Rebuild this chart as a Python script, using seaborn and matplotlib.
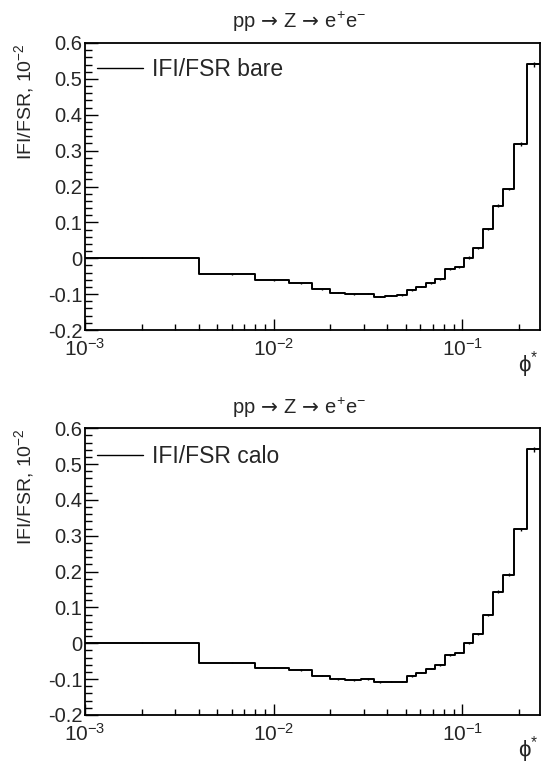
import numpy as np
import pandas as pd
import matplotlib
matplotlib.use("Agg")
import matplotlib.pyplot as plt
from matplotlib.ticker import LogLocator, MultipleLocator, FixedLocator, FixedFormatter, NullFormatter
import seaborn as sns

# ---- data ----
bin_edges = [0.001, 0.004, 0.008, 0.012, 0.016, 0.020, 0.024, 0.029, 0.034, 0.039,
             0.045, 0.051, 0.057, 0.064, 0.072, 0.081, 0.091, 0.102, 0.114, 0.128,
             0.145, 0.165, 0.189, 0.219, 0.258]
bin_centers = [0.002, 0.006, 0.010, 0.014, 0.018, 0.022, 0.0265, 0.0315, 0.0365, 0.042,
               0.048, 0.054, 0.0605, 0.068, 0.0765, 0.086, 0.0965, 0.108, 0.121, 0.1365,
               0.155, 0.177, 0.204, 0.2385]
bare_values = [0.002, -0.045, -0.061, -0.070, -0.087, -0.096, -0.101, -0.099, -0.107, -0.104,
               -0.103, -0.088, -0.079, -0.070, -0.059, -0.030, -0.025, 0.002, 0.028, 0.081,
               0.147, 0.193, 0.318, 0.541]
calo_values = [0.002, -0.054, -0.068, -0.074, -0.090, -0.099, -0.102, -0.100, -0.109, -0.107,
               -0.107, -0.091, -0.082, -0.071, -0.061, -0.033, -0.026, 0.000, 0.026, 0.079,
               0.144, 0.192, 0.318, 0.541]
errors = [0.002, 0.002, 0.002, 0.002, 0.002, 0.002, 0.002, 0.002, 0.002, 0.002,
          0.002, 0.002, 0.002, 0.002, 0.002, 0.002, 0.002, 0.003, 0.003, 0.003,
          0.004, 0.004, 0.005, 0.007]
y_ticks = [-0.2, -0.1, 0, 0.1, 0.2, 0.3, 0.4, 0.5, 0.6]
y_tick_labels = ["-0.2", "-0.1", "0", "0.1", "0.2", "0.3", "0.4", "0.5", "0.6"]
x_ticks = [0.001, 0.01, 0.1]
x_tick_labels = [r"10$^{-3}$", r"10$^{-2}$", r"10$^{-1}$"]
panel_title = r"pp$\,\mathsf{\rightarrow}\,$Z$\,\mathsf{\rightarrow}\,$e$^{+}$e$^{-}$"
y_title = r"IFI/FSR, 10$^{-2}$"
x_title = r"ϕ$^{*}$"
series = [("IFI/FSR bare", bare_values), ("IFI/FSR calo", calo_values)]

sns.set_style("ticks")
plt.rcParams['font.family'] = ['Liberation Sans', 'DejaVu Sans']
plt.rcParams['mathtext.fontset'] = 'custom'
plt.rcParams['mathtext.rm'] = 'Liberation Sans'
plt.rcParams['mathtext.it'] = 'Liberation Sans:italic'
plt.rcParams['mathtext.bf'] = 'Liberation Sans:bold'
plt.rcParams['mathtext.sf'] = 'DejaVu Sans'

W, H = 541, 764
fig = plt.figure(figsize=(W / 100, H / 100), dpi=100)
fig.patch.set_facecolor('white')

panels = [
    dict(top=43, bottom=330, title_y=22, leg_y=70),
    dict(top=428.3, bottom=715, title_y=408, leg_y=456.7),
]
left_px, right_px = 85, 540

for (label, vals), p in zip(series, panels):
    ax = fig.add_axes([left_px / W, 1 - p['bottom'] / H,
                       (right_px - left_px) / W, (p['bottom'] - p['top']) / H])
    ax.set_facecolor('white')
    ax.set_xscale('log')
    df = pd.DataFrame({'x': bin_edges, 'y': list(vals) + [vals[-1]]})
    sns.lineplot(data=df, x='x', y='y', drawstyle='steps-post', estimator=None,
                 sort=False, color='black', linewidth=1.4, ax=ax, label=label)
    ax.errorbar(bin_centers, vals, yerr=errors, fmt='none', ecolor='black',
                elinewidth=1.0, capsize=0)
    ax.set_xlim(0.001, 0.258)
    ax.set_ylim(-0.2, 0.6)

    # y axis
    ax.yaxis.set_major_locator(FixedLocator(y_ticks))
    ax.yaxis.set_major_formatter(FixedFormatter(y_tick_labels))
    ax.yaxis.set_minor_locator(MultipleLocator(0.02))
    # x axis
    ax.xaxis.set_major_locator(FixedLocator(x_ticks))
    ax.xaxis.set_major_formatter(FixedFormatter(x_tick_labels))
    ax.xaxis.set_minor_locator(LogLocator(base=10, subs=np.arange(2, 10), numticks=20))
    ax.xaxis.set_minor_formatter(NullFormatter())

    ax.tick_params(axis='both', which='both', direction='in', top=False, right=False,
                   color='black')
    ax.tick_params(axis='x', which='major', length=8, width=1.0, labelsize=15, pad=6)
    ax.tick_params(axis='x', which='minor', length=4, width=1.0)
    ax.tick_params(axis='y', which='major', length=9, width=1.0, labelsize=14.5, pad=2)
    ax.tick_params(axis='y', which='minor', length=5, width=1.0)
    for s in ax.spines.values():
        s.set_visible(True)
        s.set_color('black')
        s.set_linewidth(1.3)

    ax.set_ylabel(y_title, fontsize=14, loc='top')
    ax.yaxis.set_label_coords(-0.108, 1.0)
    ax.set_xlabel(x_title, fontsize=16, loc='right')
    ax.xaxis.set_label_coords(0.997, -0.068)
    ax.xaxis.label.set_va('top')

    hp = (p['bottom'] - p['top'])
    leg = ax.legend(loc='center left',
                    bbox_to_anchor=((97 - left_px) / (right_px - left_px),
                                    (p['bottom'] - p['leg_y']) / hp),
                    frameon=False, fontsize=16.5, handlelength=2.0,
                    handletextpad=0.4, borderpad=0, borderaxespad=0)
    for h in leg.get_lines():
        h.set_linewidth(1.0)

    fig.text(299 / W, 1 - p['title_y'] / H, panel_title, ha='center', va='center',
             fontsize=14.5)

fig.savefig('out.png', dpi=100, facecolor='white')
